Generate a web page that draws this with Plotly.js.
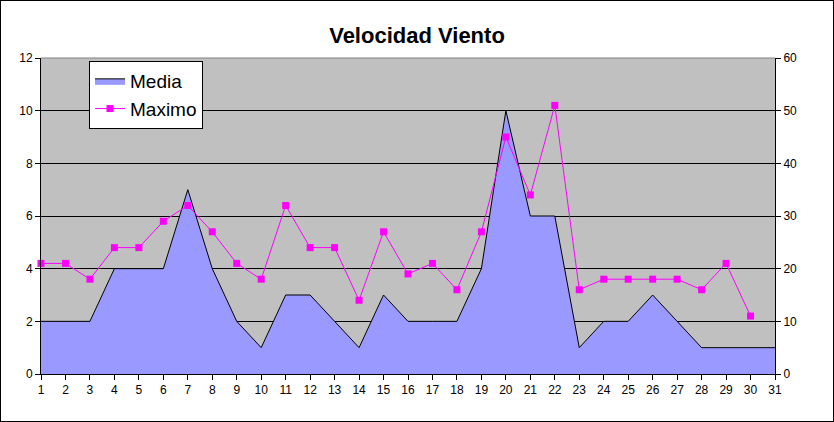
<!DOCTYPE html>
<html>
<head>
<meta charset="utf-8">
<script src="https://cdn.plot.ly/plotly-3.0.1.min.js"></script>
<style>
  html, body { margin: 0; padding: 0; background: #ffffff; }
  #wrap { width: 834px; height: 422px; box-sizing: border-box; border: 1px solid #000000; background: #ffffff; }
  #chart { width: 832px; height: 420px; }
</style>
</head>
<body>
<div id="wrap"><div id="chart"></div></div>
<script>
const days = [1,2,3,4,5,6,7,8,9,10,11,12,13,14,15,16,17,18,19,20,21,22,23,24,25,26,27,28,29,30,31];
const media = [2,2,2,4,4,4,7,4,2,1,3,3,2,1,3,2,2,2,4,10,6,6,1,2,2,3,2,1,1,1,1];
const maximo = [21,21,18,24,24,29,32,27,21,18,32,24,24,14,27,19,21,16,27,45,34,51,16,18,18,18,18,16,21,11,null];
const leftTicks = [0,2,4,6,8,10,12];
const rightTicks = [0,10,20,30,40,50,60];

const FONT = '"Liberation Sans", Arial, sans-serif';

const traces = [
  {
    x: days, y: media, name: 'Media', type: 'scatter', mode: 'lines',
    fill: 'tozeroy', fillcolor: '#9999FF',
    line: { color: '#000000', width: 1 },
    yaxis: 'y'
  },
  {
    x: days, y: maximo, name: 'Maximo', type: 'scatter', mode: 'lines+markers',
    line: { color: '#FF00FF', width: 1 },
    marker: { symbol: 'square', size: 7, color: '#FF00FF' },
    cliponaxis: false,
    connectgaps: false,
    yaxis: 'y2'
  }
];

const layout = {
  width: 832, height: 420,
  margin: { l: 40, r: 58, t: 57, b: 47, pad: 0 },
  paper_bgcolor: '#ffffff',
  plot_bgcolor: '#C0C0C0',
  font: { family: FONT, size: 12, color: '#000000' },
  title: {
    text: 'Velocidad Viento',
    font: { family: FONT, size: 22, weight: 'bold', color: '#000000' },
    x: 0.5, xref: 'container', xanchor: 'center',
    y: 0.919, yref: 'container', yanchor: 'middle'
  },
  showlegend: true,
  legend: {
    x: 0.0654, y: 0.9905, xanchor: 'left', yanchor: 'top',
    bgcolor: '#ffffff', bordercolor: '#000000', borderwidth: 1,
    font: { family: FONT, size: 19, color: '#000000' },
    tracegroupgap: 0
  },
  xaxis: {
    range: [1, 31], tickmode: 'array', tickvals: days, ticktext: days.map(String),
    showgrid: false, zeroline: false,
    showline: true, linecolor: '#000000', linewidth: 1,
    ticks: 'outside', ticklen: 5, tickcolor: '#000000',
    tickfont: { family: FONT, size: 12 }, fixedrange: true
  },
  yaxis: {
    range: [0, 12], tickmode: 'array', tickvals: leftTicks,
    showgrid: true, gridcolor: '#000000', gridwidth: 1,
    zeroline: false, showline: true, linecolor: '#000000', linewidth: 1,
    ticks: 'outside', ticklen: 5, tickcolor: '#000000',
    tickfont: { family: FONT, size: 12 }, fixedrange: true
  },
  yaxis2: {
    range: [0, 60], tickmode: 'array', tickvals: rightTicks,
    overlaying: 'y', side: 'right',
    showgrid: false, zeroline: false, showline: true, linecolor: '#000000', linewidth: 1,
    ticks: 'outside', ticklen: 5, tickcolor: '#000000',
    tickfont: { family: FONT, size: 12 }, fixedrange: true
  },
  shapes: [
    { type: 'line', xref: 'paper', yref: 'paper', x0: 0, x1: 1, y0: 1, y1: 1,
      line: { color: '#808080', width: 1 }, layer: 'above' }
  ]
};

Plotly.newPlot('chart', traces, layout, { displayModeBar: false, staticPlot: true });
</script>
</body>
</html>
